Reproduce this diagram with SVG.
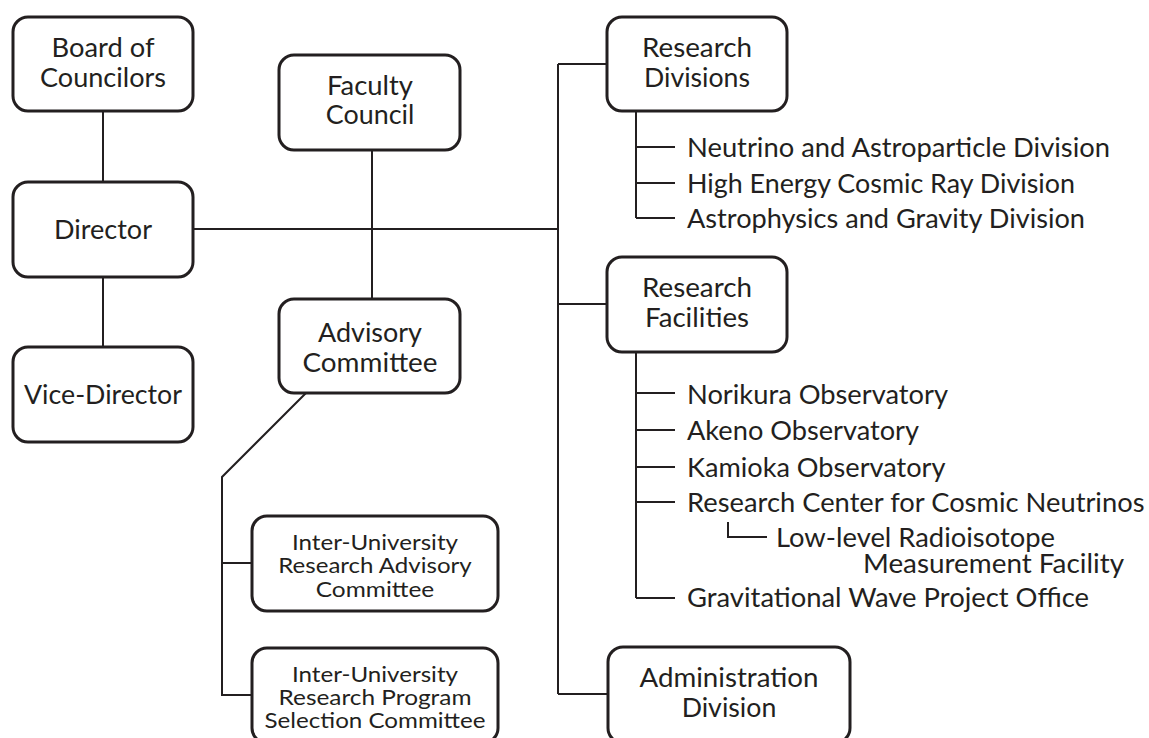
<svg xmlns="http://www.w3.org/2000/svg" width="1149" height="738" viewBox="0 0 1149 738">
<style>
.box{fill:#fff;stroke:#231f20;stroke-width:3}
.ln{fill:none;stroke:#231f20;stroke-width:2}
text{font-family:Lato,"Noto Sans",sans-serif;fill:#231f20;font-size:27.5px}
.c{text-anchor:middle}
.s{font-size:21.5px}
</style>
<rect width="1149" height="738" fill="#fff"/>
<g id="connectors">
<path class="ln" d="M103 111V182M103 277V347"/>
<path class="ln" d="M372 150V299"/>
<path class="ln" d="M193 229H558M558 64V694M558 64H607M558 304H607M558 694H608"/>
<path class="ln" d="M636 111V218M636 147H675M636 183H675M636 218H675"/>
<path class="ln" d="M636 352V598M636 393H675M636 430H675M636 467H675M636 502H675M636 598H675"/>
<path class="ln" d="M728 522V537H767"/>
<path class="ln" d="M306 393L222 477V695H252M222 563H252"/>
</g>
<g id="board">
<rect class="box" x="13" y="17" width="180" height="94" rx="15"/>
<text class="c" x="103" y="57" textLength="103" lengthAdjust="spacingAndGlyphs">Board of</text>
<text class="c" x="103" y="87" textLength="126" lengthAdjust="spacingAndGlyphs">Councilors</text>
</g>
<g id="director">
<rect class="box" x="13" y="182" width="180" height="95" rx="15"/>
<text class="c" x="103" y="239" textLength="98" lengthAdjust="spacingAndGlyphs">Director</text>
</g>
<g id="vice-director">
<rect class="box" x="13" y="347" width="180" height="95" rx="15"/>
<text class="c" x="103" y="404" textLength="158" lengthAdjust="spacingAndGlyphs">Vice-Director</text>
</g>
<g id="faculty-council">
<rect class="box" x="279" y="55" width="181" height="95" rx="15"/>
<text class="c" x="370" y="95" textLength="86" lengthAdjust="spacingAndGlyphs">Faculty</text>
<text class="c" x="370" y="124" textLength="88.5" lengthAdjust="spacingAndGlyphs">Council</text>
</g>
<g id="advisory-committee">
<rect class="box" x="279" y="299" width="181" height="94" rx="15"/>
<text class="c" x="370" y="342" textLength="104" lengthAdjust="spacingAndGlyphs">Advisory</text>
<text class="c" x="370" y="372" textLength="135" lengthAdjust="spacingAndGlyphs">Committee</text>
</g>
<g id="research-divisions">
<rect class="box" x="607" y="17" width="180" height="94" rx="15"/>
<text class="c" x="697" y="57" textLength="110" lengthAdjust="spacingAndGlyphs">Research</text>
<text class="c" x="697" y="87" textLength="106" lengthAdjust="spacingAndGlyphs">Divisions</text>
</g>
<g id="divisions-list">
<text x="687" y="157" textLength="423" lengthAdjust="spacingAndGlyphs">Neutrino and Astroparticle Division</text>
<text x="687" y="193" textLength="388" lengthAdjust="spacingAndGlyphs">High Energy Cosmic Ray Division</text>
<text x="687" y="228" textLength="398" lengthAdjust="spacingAndGlyphs">Astrophysics and Gravity Division</text>
</g>
<g id="research-facilities">
<rect class="box" x="607" y="257" width="180" height="95" rx="15"/>
<text class="c" x="697" y="297" textLength="110" lengthAdjust="spacingAndGlyphs">Research</text>
<text class="c" x="697" y="327" textLength="104" lengthAdjust="spacingAndGlyphs">Facilities</text>
</g>
<g id="facilities-list">
<text x="687" y="404" textLength="261" lengthAdjust="spacingAndGlyphs">Norikura Observatory</text>
<text x="687" y="440" textLength="232" lengthAdjust="spacingAndGlyphs">Akeno Observatory</text>
<text x="687" y="477" textLength="258.5" lengthAdjust="spacingAndGlyphs">Kamioka Observatory</text>
<text x="687" y="512" textLength="457.5" lengthAdjust="spacingAndGlyphs">Research Center for Cosmic Neutrinos</text>
<text x="776" y="547" textLength="279" lengthAdjust="spacingAndGlyphs">Low-level Radioisotope</text>
<text x="863" y="573" textLength="261" lengthAdjust="spacingAndGlyphs">Measurement Facility</text>
<text x="687" y="607" textLength="402" lengthAdjust="spacingAndGlyphs">Gravitational Wave Project Office</text>
</g>
<g id="administration-division">
<rect class="box" x="608" y="647" width="242" height="96" rx="15"/>
<text class="c" x="729" y="687" textLength="179" lengthAdjust="spacingAndGlyphs">Administration</text>
<text class="c" x="729" y="717" textLength="94.6" lengthAdjust="spacingAndGlyphs">Division</text>
</g>
<g id="inter-university-advisory">
<rect class="box" x="252" y="516" width="246" height="95" rx="15"/>
<text class="c s" x="375" y="550" textLength="166" lengthAdjust="spacingAndGlyphs">Inter-University</text>
<text class="c s" x="375" y="573" textLength="193.4" lengthAdjust="spacingAndGlyphs">Research Advisory</text>
<text class="c s" x="375" y="597" textLength="118.4" lengthAdjust="spacingAndGlyphs">Committee</text>
</g>
<g id="inter-university-selection">
<rect class="box" x="252" y="648" width="246" height="95" rx="15"/>
<text class="c s" x="375" y="682" textLength="166" lengthAdjust="spacingAndGlyphs">Inter-University</text>
<text class="c s" x="375" y="705" textLength="193" lengthAdjust="spacingAndGlyphs">Research Program</text>
<text class="c s" x="375" y="728" textLength="221" lengthAdjust="spacingAndGlyphs">Selection Committee</text>
</g>
</svg>
